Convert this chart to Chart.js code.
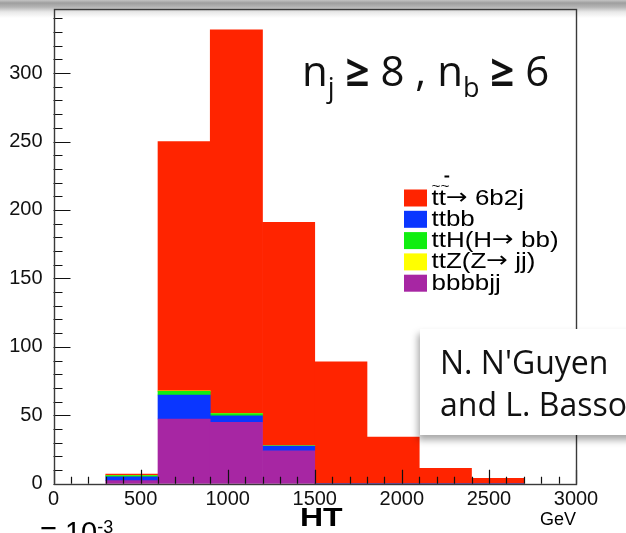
<!DOCTYPE html>
<html>
<head>
<meta charset="utf-8">
<script src="https://cdn.jsdelivr.net/npm/chart.js@4/dist/chart.umd.min.js"></script>
<style>
  html, body { margin: 0; padding: 0; background: #fff; }
  #wrap { position: relative; width: 626px; height: 533px; overflow: hidden; background: #fff; }
  #shade { position: absolute; left: 0; top: 0; width: 626px; height: 18px;
    background: linear-gradient(#c4c4c4 0px, #9e9e9e 3px, #b4b4b4 7px, #e8e8e8 12px, #ffffff 18px); }
  #plot { position: absolute; left: 0; top: 0; }
  .txt { position: absolute; white-space: nowrap; color: #000; }
  #cut { left: 302px; top: 49.4px; font: 42px/1 "Open Sans", sans-serif; color: #111; }
  #cut .sub { font-size: 27px; position: relative; top: 11px; }
  #cut b { font-weight: 700; }
  #credit { position: absolute; left: 420px; top: 329px; width: 230px; height: 106px; background: #fff;
    box-shadow: -2px 5px 7px rgba(0,0,0,0.35); box-sizing: border-box; padding: 12px 0 0 20px;
    font: 32px/41.7px "Open Sans", sans-serif; color: #111; }
  #ht { left: 300px; top: 505px; font: bold 25px/1 "Liberation Sans", Arial, sans-serif;
    transform: scaleX(1.28); transform-origin: 0 0; }
  #gev { right: 50px; top: 510px; font: 18px/1 "Liberation Sans", Arial, sans-serif; }
  #scale { left: 40px; top: 518px; font: 29px/1 "Liberation Sans", Arial, sans-serif; }
  #scale sup { font-size: 18px; position: relative; top: -9px; vertical-align: baseline; }
</style>
</head>
<body>
<div id="wrap">
  <div id="shade"></div>
  <canvas id="plot" width="626" height="533"></canvas>
  <div class="txt" id="cut">n<span class="sub">j</span> <b>≥</b> 8 , n<span class="sub">b</span> <b>≥</b> 6</div>
  <div id="credit">N. N'Guyen<br>and L. Basso</div>
  <div class="txt" id="ht">HT</div>
  <div class="txt" id="gev">GeV</div>
  <div class="txt" id="scale">= 10<sup>-3</sup></div>
</div>
<script>
// HT bins, 300 GeV wide, given by their centres
const binCenters = [450, 750, 1050, 1350, 1650, 1950, 2250, 2550];

// Stacked event counts per bin (bottom of the stack first)
const bbbbjj = [2.2, 47.3, 44.9, 24.1, 0, 0, 0, 0];
const ttbb   = [2.9, 17.5, 4.6, 3.3, 0, 0, 0, 0];
const ttH    = [0.8, 2.7, 1.8, 0.3, 0, 0, 0, 0];
const ttZ    = [0.2, 0.3, 0.2, 0.1, 0, 0, 0, 0];
const tt6b2j = [1.0, 182.2, 280.1, 163.2, 89.0, 34.0, 11.3, 3.9];

// Axis ticks
const xTicks = [0, 500, 1000, 1500, 2000, 2500, 3000];
const yTicks = [0, 50, 100, 150, 200, 250, 300];
const xMinorStep = 100;
const yMinorStep = 10;
const X_MAX = 3000;
const Y_MAX = 347;

const series = [
  { label: 'bbbbjj',          values: bbbbjj, color: '#a726a3' },
  { label: 'ttbb',            values: ttbb,   color: '#0a36ff' },
  { label: 'ttH(H\u2192 bb)', values: ttH,    color: '#10ee10' },
  { label: 'ttZ(Z\u2192 jj)', values: ttZ,    color: '#ffff00' },
  { label: 'tt\u2192 6b2j',   values: tt6b2j, color: '#ff2400' }
];
// Legend rows, top to bottom (indices into series)
const legendOrder = [4, 1, 2, 3, 0];

const datasets = series.map(s => ({
  label: s.label,
  data: binCenters.map((x, i) => ({ x: x, y: s.values[i] })),
  backgroundColor: s.color,
  borderWidth: 0,
  barPercentage: 1.0,
  categoryPercentage: 1.0
}));

const tickFont = { family: '"Liberation Sans", Arial, sans-serif', size: 20 };

// ROOT-style frame with inward major/minor ticks
const framePlugin = {
  id: 'rootFrame',
  afterDatasetsDraw(chart) {
    const { ctx, chartArea: a, scales: { x, y } } = chart;
    ctx.save();
    ctx.strokeStyle = '#111';
    ctx.lineWidth = 1.2;
    ctx.beginPath();
    for (let v = 0; v <= X_MAX + 1e-6; v += xMinorStep) {
      const px = Math.round(x.getPixelForValue(v)) + 0.5;
      const len = (v % 500 === 0) ? 14 : 7;
      ctx.moveTo(px, a.bottom);
      ctx.lineTo(px, a.bottom - len);
    }
    for (let v = 0; v <= Y_MAX + 1e-6; v += yMinorStep) {
      const py = Math.round(y.getPixelForValue(v)) + 0.5;
      const len = (v % 50 === 0) ? 17 : 9;
      ctx.moveTo(a.left, py);
      ctx.lineTo(a.left + len, py);
    }
    ctx.stroke();
    ctx.strokeStyle = '#3a3a3a';
    ctx.lineWidth = 1.4;
    ctx.strokeRect(Math.round(a.left) + 0.5, Math.round(a.top) + 0.5,
                   Math.round(a.right - a.left) - 1, Math.round(a.bottom - a.top));
    ctx.restore();
  }
};

// Legend box drawn inside the frame; arrows use a font with a full-width arrow glyph
const legendPlugin = {
  id: 'stackLegend',
  afterDraw(chart) {
    const ctx = chart.ctx;
    const textFont = '22px "Liberation Sans", Arial, sans-serif';
    const arrowFont = '22px "DejaVu Sans", sans-serif';
    ctx.save();
    legendOrder.forEach((idx, row) => {
      const s = series[idx];
      const base = 204.5 + row * 21.3;
      ctx.fillStyle = s.color;
      ctx.fillRect(404, base - 15, 23, 17);
      ctx.save();
      ctx.translate(431.5, base);
      ctx.scale(1.18, 1);
      ctx.fillStyle = '#000';
      ctx.textBaseline = 'alphabetic';
      const parts = s.label.split('\u2192');
      let cx = 0;
      parts.forEach((p, k) => {
        if (k > 0) {
          ctx.font = arrowFont;
          ctx.fillText('\u2192', cx, -1);
          cx += ctx.measureText('\u2192').width;
        }
        ctx.font = textFont;
        ctx.fillText(p, cx, 0);
        cx += ctx.measureText(p).width;
      });
      if (idx === 4) {
        ctx.font = '13px "Liberation Sans", Arial, sans-serif';
        ctx.fillText('~~', 0, -15);
        ctx.fillRect(11, -29, 4, 2);
      }
      ctx.restore();
    });
    ctx.restore();
  }
};

new Chart(document.getElementById('plot'), {
  type: 'bar',
  data: { datasets: datasets },
  options: {
    responsive: false,
    animation: false,
    devicePixelRatio: 1,
    layout: { padding: { top: 8.8, right: 50, left: 0, bottom: 0 } },
    scales: {
      x: {
        type: 'linear',
        stacked: true,
        offset: false,
        min: 0,
        max: X_MAX,
        grid: { display: false, offset: false },
        border: { display: false },
        ticks: { font: tickFont, color: '#111', padding: -4, maxRotation: 0, autoSkip: false,
                 callback: v => String(v) },
        afterBuildTicks: s => { s.ticks = xTicks.map(v => ({ value: v })); },
        afterFit: s => { s.height = 49.3; s.paddingLeft = 0; s.paddingRight = 0; }
      },
      y: {
        stacked: true,
        min: 0,
        max: Y_MAX,
        grid: { display: false },
        border: { display: false },
        ticks: { font: tickFont, color: '#111', padding: 3, callback: v => String(v) },
        afterBuildTicks: s => { s.ticks = yTicks.map(v => ({ value: v })); },
        afterFit: s => { s.width = 53.5; s.paddingTop = 0; s.paddingBottom = 0; }
      }
    },
    plugins: { legend: { display: false }, tooltip: { enabled: false } }
  },
  plugins: [framePlugin, legendPlugin]
});
</script>
</body>
</html>
